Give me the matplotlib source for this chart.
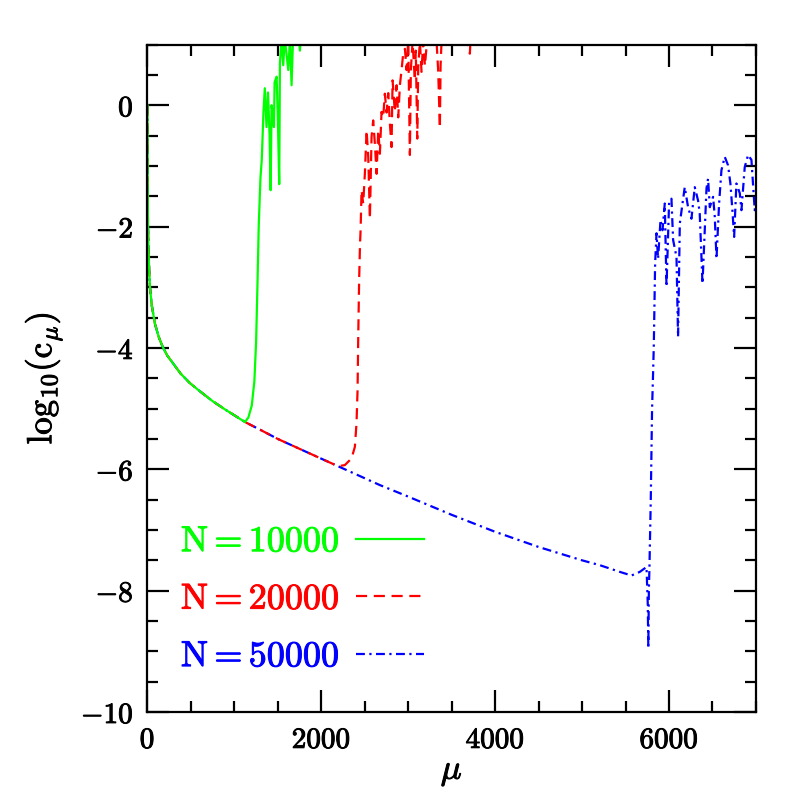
import matplotlib
matplotlib.use('Agg')
import matplotlib.pyplot as plt
import matplotlib.patheffects as pe
from matplotlib.ticker import MultipleLocator, FuncFormatter

plt.rcParams['mathtext.fontset'] = 'cm'
plt.rcParams['font.family'] = ['DejaVu Serif']

# -----------------------------
# DATA
# -----------------------------
# shared early decay, identical for all N
decay_mu   = [0, 1, 3, 6, 15, 29, 50, 86, 130, 178, 230, 293, 380, 489, 600, 753, 900, 1000, 1121]
decay_logc = [0.0, -0.6, -1.4, -1.95, -2.55, -3.0, -3.3, -3.6, -3.82, -3.99, -4.13, -4.25,
              -4.42, -4.58, -4.71, -4.88, -5.02, -5.11, -5.22]

# N=10000 tail
tail10_mu = [1160, 1200, 1230, 1250, 1265, 1280, 1300, 1315, 1335, 1350, 1370, 1387,
             1405, 1417, 1428, 1445, 1455, 1463, 1486, 1500, 1516, 1524, 1543, 1562,
             1580, 1620, 1640, 1658, 1677, 1720, 1754, 1775, 1800]
tail10_logc = [-5.15, -4.95, -4.55, -3.9, -3.0, -2.0, -1.2, -0.9, -0.1, 0.28, -0.36, 0.21,
               -0.5, -1.4, 0.0, -0.2, -0.36, 0.38, 0.47, -0.2, -1.3, 0.69, 1.1, 0.66,
               1.1, 0.58, 1.1, 0.33, 1.2, 1.5, 0.9, 1.4, 1.6]

# N=20000: common slope to ~2200, then the jump
mid20_mu   = [1300, 1500, 1700, 1900, 2194]
mid20_logc = [-5.35, -5.5, -5.63, -5.76, -5.95]
tail20_mu = [2271, 2348, 2386, 2405, 2417, 2425, 2435, 2445, 2452, 2463, 2482, 2501,
             2521, 2540, 2559, 2578, 2597, 2616, 2636, 2655, 2674, 2693, 2712, 2731,
             2751, 2770, 2789, 2808, 2820, 2846, 2866, 2885, 2904, 2923, 2942, 2962,
             2981, 3000, 3019, 3030, 3050, 3076, 3087, 3104, 3115, 3134, 3153, 3172,
             3192, 3230, 3300, 3326, 3345, 3364, 3372, 3390, 3600, 3709, 3730]
tail20_logc = [-5.93, -5.82, -5.63, -5.24, -4.7, -3.8, -2.9, -2.3, -2.06, -1.4, -1.62, -1.13,
               -0.41, -0.85, -1.87, -0.52, -0.25, -0.63, -1.13, -0.41, -0.8, -0.11, -0.2, 0.19,
               -0.12, 0.2, -0.3, -0.69, 0.41, -0.11, 0.33, -0.2, 0.33, 0.58, 0.85, 0.93,
               0.58, 1.05, -0.82, 0.58, 1.05, 0.41, 0.9, -0.55, 0.63, 1.05, 0.55, 1.05,
               0.65, 1.3, 1.2, 1.05, 0.55, -0.38, 0.65, 1.3, 1.5, 0.85, 1.5]

# N=50000: long slope to ~5750, then spike and noisy rise
mid50_mu   = [1300, 1500, 1700, 1900, 2194, 2674, 3000, 3500, 4000, 4500, 5000, 5204, 5434,
              5568, 5664, 5741]
mid50_logc = [-5.35, -5.5, -5.63, -5.76, -5.95, -6.26, -6.45, -6.75, -7.03, -7.28, -7.5, -7.58,
              -7.69, -7.75, -7.69, -7.61]
tail50_mu = [5755, 5762, 5768, 5775, 5790, 5805, 5815, 5825, 5840, 5856, 5874, 5902,
             5925, 5951, 5971, 6001, 6028, 6047, 6086, 6104, 6124, 6155, 6181, 6219,
             6258, 6296, 6334, 6353, 6385, 6411, 6431, 6449, 6469, 6507, 6526, 6546,
             6576, 6603, 6641, 6679, 6706, 6729, 6749, 6775, 6814, 6833, 6871, 6909,
             6948, 6986, 7000]
tail50_logc = [-8.2, -8.95, -8.0, -7.6, -6.5, -5.0, -4.5, -3.95, -2.61, -2.11, -2.53, -1.89,
               -2.06, -1.62, -2.99, -1.59, -1.54, -2.22, -2.5, -3.82, -1.95, -1.62, -1.35, -1.68,
               -1.87, -1.35, -1.57, -1.78, -2.94, -2.06, -1.37, -1.21, -1.68, -1.51, -1.83, -2.53,
               -1.62, -1.07, -0.85, -0.99, -1.29, -1.73, -2.17, -1.29, -1.45, -1.73, -1.02, -0.82,
               -0.9, -1.73, -1.5]

labels = ['N=10000', 'N=20000', 'N=50000']
colors = ['#00ff00', '#ff0000', '#0000ff']

mu_10k = decay_mu + tail10_mu
lc_10k = decay_logc + tail10_logc
mu_20k = decay_mu + mid20_mu + tail20_mu
lc_20k = decay_logc + mid20_logc + tail20_logc
mu_50k = decay_mu + mid50_mu + tail50_mu
lc_50k = decay_logc + mid50_logc + tail50_logc

# -----------------------------
# PLOT
# -----------------------------
fig = plt.figure(figsize=(7.97, 7.97), dpi=100)
ax = fig.add_axes([0.185, 0.1066, 0.7635, 0.8375])

l3, = ax.plot(mu_50k, lc_50k, color=colors[2], lw=1.6, dashes=(4, 2, 1, 2))
l2, = ax.plot(mu_20k, lc_20k, color=colors[1], lw=1.6, dashes=(5, 3))
l1, = ax.plot(mu_10k, lc_10k, color=colors[0], lw=1.6)

ax.set_xlim(0, 7000)
ax.set_ylim(-10, 1)

ax.xaxis.set_major_locator(MultipleLocator(2000))
ax.xaxis.set_minor_locator(MultipleLocator(500))
ax.yaxis.set_major_locator(MultipleLocator(2))
ax.yaxis.set_minor_locator(MultipleLocator(0.5))
fmt = FuncFormatter(lambda v, p: r'$%d$' % round(v))
ax.xaxis.set_major_formatter(fmt)
ax.yaxis.set_major_formatter(fmt)

ax.tick_params(which='both', direction='in', top=True, right=True, width=1.6, labelsize=21)
ax.tick_params(which='major', length=16, pad=10)
ax.tick_params(which='minor', length=8)
for s in ax.spines.values():
    s.set_linewidth(1.6)

# thicken the thin CM strokes a little
bold = [pe.withStroke(linewidth=0.7, foreground='black')]
for t in ax.get_xticklabels() + ax.get_yticklabels():
    t.set_path_effects(bold)

ax.set_xlabel(r'$\mu$', fontsize=25, labelpad=0, path_effects=bold)
ax.set_ylabel(r'$\mathrm{log_{10}(c_{\mu})}$', fontsize=25, labelpad=12, path_effects=bold)

leg = ax.legend([l1, l2, l3], [r'$\mathrm{%s}$' % s for s in labels],
                loc='lower left', bbox_to_anchor=(0.055, 0.058), frameon=False,
                markerfirst=False, labelcolor='linecolor', fontsize=26,
                handlelength=1.9, handletextpad=0.45, labelspacing=0.65,
                borderpad=0, borderaxespad=0)
for t, c in zip(leg.get_texts(), colors):
    t.set_path_effects([pe.withStroke(linewidth=0.7, foreground=c)])

plt.savefig('out.png', dpi=100)
plt.close()
